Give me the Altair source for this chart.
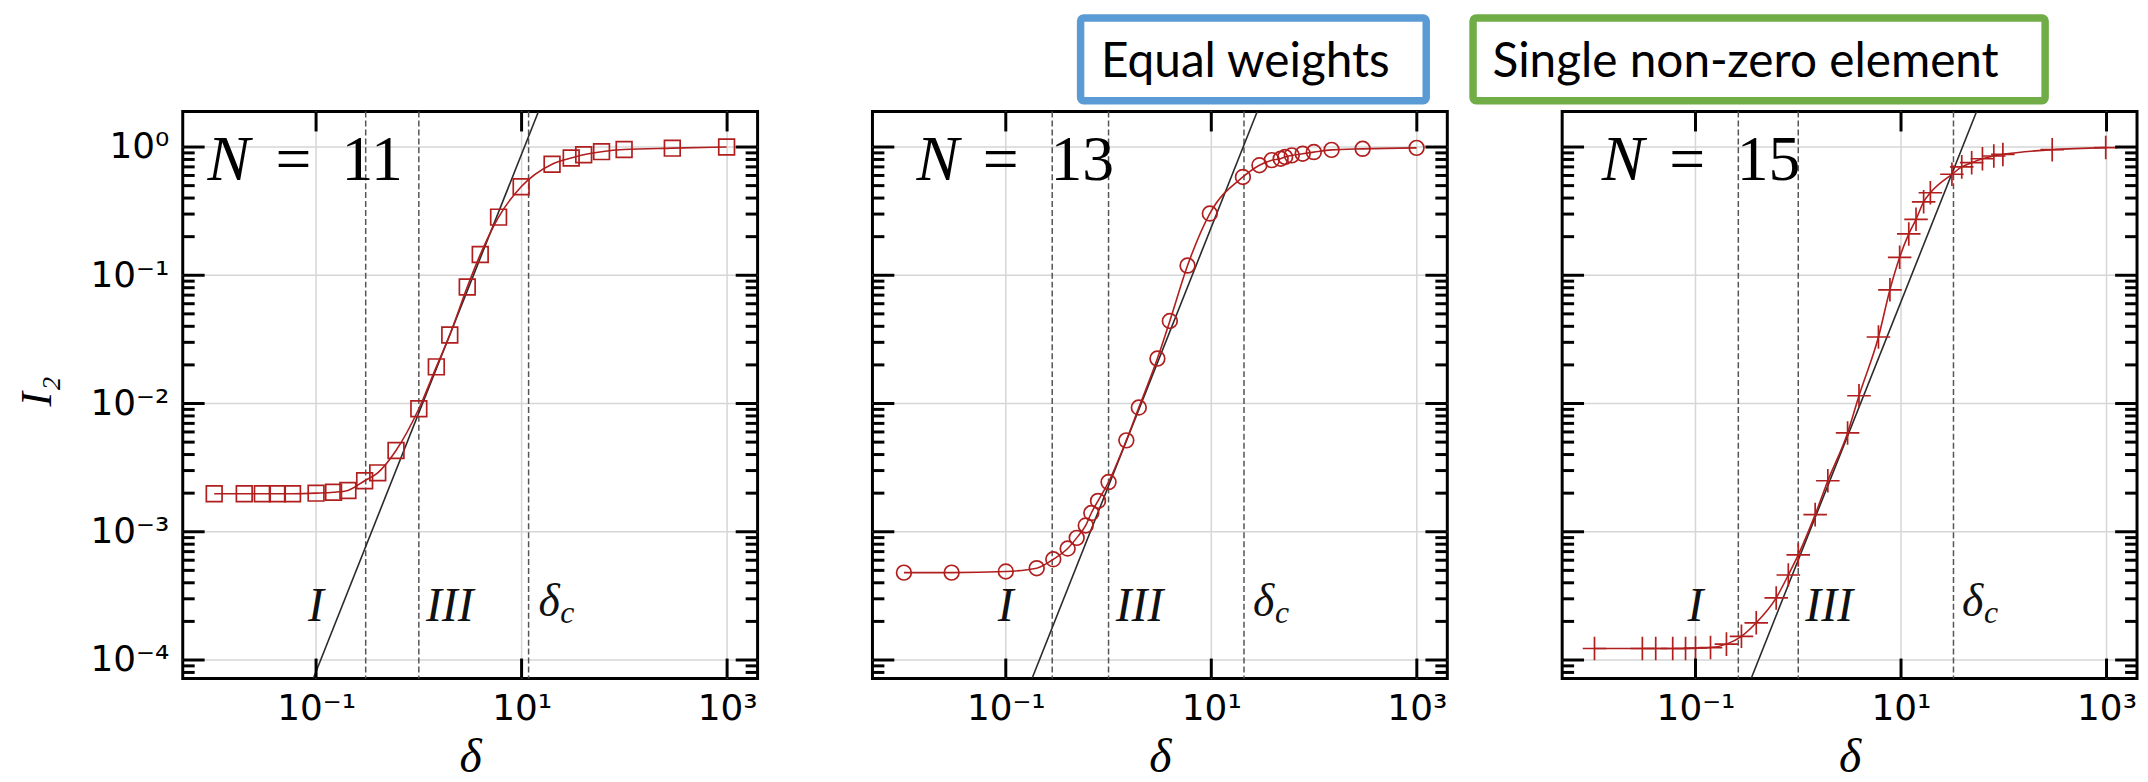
import json
import altair as alt
import pandas as pd

# ---------------- data ----------------
x_domain = [0.00504, 1980]
y_domain = [7.18e-5, 1.89]

x_major = [0.1, 10, 1000]
x_major_exp = [-1, 1, 3]
x_major_labels = ['10⁻¹', '10¹', '10³']
y_major = [1, 0.1, 0.01, 0.001, 0.0001]
y_major_exp = [0, -1, -2, -3, -4]
y_major_labels = ['10⁰', '10⁻¹', '10⁻²', '10⁻³', '10⁻⁴']
minor_mult = [2, 3, 4, 5, 6, 7, 8, 9]
y_decades = [1e-5, 1e-4, 1e-3, 1e-2, 1e-1, 1]
y_minor = [m * d for d in y_decades for m in minor_mult if y_domain[0] < m * d < y_domain[1]]

n_values = ['11', '13', '15']

x1 = [0.0102, 0.02, 0.03, 0.042, 0.059, 0.1, 0.148, 0.204, 0.297, 0.398, 0.6, 1.0, 1.48, 2.0,
      2.96, 3.96, 5.97, 9.9, 19.8, 30.4, 40.2, 60, 99.5, 293, 989]
y1 = [0.00198, 0.00198, 0.00198, 0.00198, 0.00198, 0.002, 0.00203, 0.0021, 0.0025, 0.00288,
      0.0043, 0.0091, 0.0193, 0.0342, 0.081, 0.145, 0.284, 0.49, 0.735, 0.82, 0.87, 0.92, 0.957, 0.98, 1.0]

x2 = [0.0102, 0.0297, 0.1, 0.2, 0.29, 0.4, 0.49, 0.6, 0.68, 0.79, 1.0, 1.49, 1.97, 2.99, 3.95,
      5.87, 9.67, 20.3, 29.4, 38.8, 47.3, 52.3, 60.7, 77.5, 99.5, 148, 297, 995]
y2 = [4.8e-4, 4.8e-4, 4.9e-4, 5.2e-4, 6.1e-4, 7.4e-4, 8.96e-4, 1.12e-3, 1.4e-3, 1.74e-3, 2.44e-3,
      5.16e-3, 9.3e-3, 0.0224, 0.044, 0.119, 0.303, 0.584, 0.721, 0.79, 0.81, 0.836, 0.861, 0.887,
      0.913, 0.95, 0.968, 0.985]

x3 = [0.0104, 0.0304, 0.041, 0.06, 0.08, 0.1, 0.14, 0.2, 0.28, 0.39, 0.61, 0.8, 1.0, 1.46, 1.94,
      3.02, 3.9, 6.03, 7.8, 9.7, 11.9, 14.0, 16.6, 19.3, 31.3, 39, 48.7, 62, 80, 98, 296, 982]
y3 = [1.23e-4, 1.23e-4, 1.23e-4, 1.23e-4, 1.23e-4, 1.24e-4, 1.25e-4, 1.33e-4, 1.53e-4, 1.95e-4,
      3.05e-4, 4.6e-4, 6.6e-4, 1.36e-3, 2.5e-3, 5.9e-3, 0.0115, 0.033, 0.077, 0.138, 0.21, 0.273,
      0.374, 0.44, 0.613, 0.70, 0.755, 0.81, 0.851, 0.876, 0.953, 0.99]

# reference power-law line (end points where it meets the frame)
pl_x = [[0.094, 14.6], [0.18, 28.0], [0.348, 54.4]]
pl_y = [[7.18e-5, 1.89], [7.18e-5, 1.89], [7.18e-5, 1.89]]

# dashed region boundaries
dash_x = [[0.304, 1.0, 11.7], [0.283, 1.0, 20.8], [0.261, 1.0, 32.4]]

# annotation anchors (data coordinates)
N_x = [0.00879, 0.0135, 0.01222]
eq_x = [0.0402, 0.0596, 0.0555]
num_x = [0.177, 0.272, 0.252]
N_y = 0.557
roman_labels = ['I', 'III']
roman_x = [0.1, 2.0]
roman_y = 2.0e-4
dc_x = [14.6, 25.5, 39.3]
dc_y = 2.2e-4

series_x = [x1, x2, x3]
series_y = [y1, y2, y3]

# ---------------- styles / layout ----------------
W, H = 578, 570
RED = '#B01E1E'
shapes = ['square', 'circle', 'M-1,0L1,0M0,-1L0,1']
sizes = [250, 220, 560]
SERIF = 'Liberation Serif'

boxes = {
    1: dict(text='Equal weights', color='#5B9BD5', x=209.3, x2=556.8, y=-94.0, y2=-10.8, tx=229.8, ty=-35),
    2: dict(text='Single non-zero element', color='#70AD47', x=-89.6, x2=485.6, y=-94.0, y2=-10.8, tx=-70.1, ty=-35),
}

LOG10 = "round(log(datum.value) / LN10)"
xexpr = "%s[indexof(%s, %s)]" % (json.dumps(x_major_labels, ensure_ascii=False), json.dumps(x_major_exp), LOG10)
yexpr = "%s[indexof(%s, %s)]" % (json.dumps(y_major_labels, ensure_ascii=False), json.dumps(y_major_exp), LOG10)

xs = alt.Scale(type='log', domain=x_domain, nice=False)
ys = alt.Scale(type='log', domain=y_domain, nice=False)

xaxis = alt.Axis(values=x_major, labelExpr=xexpr, ticks=False, tickSize=0, domain=False, grid=False,
                 labelFont='DejaVu Sans', labelFontSize=36, labelColor='black', labelPadding=13,
                 labelFlush=False, labelOverlap=False, orient='bottom',
                 title='δ', titleFont=SERIF, titleFontStyle='italic', titleFontWeight='normal',
                 titleFontSize=48, titleColor='black', titleBaseline='alphabetic', titleY=94)
yaxis_main = alt.Axis(values=y_major, labelExpr=yexpr, ticks=False, tickSize=0, domain=False, grid=False,
                      labelFont='DejaVu Sans', labelFontSize=36, labelColor='black', labelPadding=14,
                      labelOverlap=False, labelFlush=False, orient='left',
                      title='I₂', titleFont=SERIF, titleFontStyle='italic', titleFontWeight='normal',
                      titleFontSize=44, titleColor='black', titleAngle=270, titleBaseline='alphabetic',
                      titleX=-133, titleY=281)
yaxis_blank = alt.Axis(values=y_major, labels=False, ticks=False, tickSize=0, domain=False, grid=False,
                       orient='left', title='')


def panel(i):
    yaxis = yaxis_main if i == 0 else yaxis_blank
    X = lambda: alt.X('x:Q', scale=xs, axis=xaxis)
    Y = lambda: alt.Y('y:Q', scale=ys, axis=yaxis)

    vgrid = alt.Chart(pd.DataFrame({'x': x_major})).mark_rule(color='#d6d6d6', strokeWidth=1.5).encode(x=X())
    hgrid = alt.Chart(pd.DataFrame({'y': y_major})).mark_rule(color='#d6d6d6', strokeWidth=1.5).encode(y=Y())

    dashed = alt.Chart(pd.DataFrame({'x': dash_x[i]})).mark_rule(
        color='#555555', strokeWidth=1.5, strokeDash=[6, 3]).encode(x=X())

    pl = alt.Chart(pd.DataFrame({'x': pl_x[i], 'y': pl_y[i]})).mark_line(
        color='#2a2a2a', strokeWidth=1.6, clip=True).encode(x=X(), y=Y())

    df = pd.DataFrame({'x': series_x[i], 'y': series_y[i]})
    line = alt.Chart(df).mark_line(color=RED, strokeWidth=1.6, interpolate='monotone').encode(x=X(), y=Y())
    pts = alt.Chart(df).mark_point(shape=shapes[i], size=sizes[i], filled=False, color=RED,
                                   strokeWidth=1.7, opacity=1).encode(x=X(), y=Y())

    big = dict(font=SERIF, fontSize=64, align='left', baseline='alphabetic', color='black')
    tN = alt.Chart(pd.DataFrame({'x': [N_x[i]], 'y': [N_y], 't': ['N']})).mark_text(
        fontStyle='italic', **big).encode(x=X(), y=Y(), text='t:N')
    tEq = alt.Chart(pd.DataFrame({'x': [eq_x[i]], 'y': [N_y], 't': ['=']})).mark_text(
        **big).encode(x=X(), y=Y(), text='t:N')
    tNum = alt.Chart(pd.DataFrame({'x': [num_x[i]], 'y': [N_y], 't': [n_values[i]]})).mark_text(
        **big).encode(x=X(), y=Y(), text='t:N')

    tR = alt.Chart(pd.DataFrame({'x': roman_x, 'y': [roman_y] * 2, 't': roman_labels})).mark_text(
        font=SERIF, fontStyle='italic', fontSize=48, align='center', baseline='alphabetic', color='#111111'
    ).encode(x=X(), y=Y(), text='t:N')
    tD = alt.Chart(pd.DataFrame({'x': [dc_x[i]], 'y': [dc_y], 't': ['δ']})).mark_text(
        font=SERIF, fontStyle='italic', fontSize=46, align='left', baseline='alphabetic', color='#111111'
    ).encode(x=X(), y=Y(), text='t:N')
    tC = alt.Chart(pd.DataFrame({'x': [dc_x[i]], 'y': [dc_y], 't': ['c']})).mark_text(
        font=SERIF, fontStyle='italic', fontSize=32, align='left', baseline='alphabetic', color='#111111',
        dx=22, dy=7
    ).encode(x=X(), y=Y(), text='t:N')

    tick = dict(color='black', strokeWidth=3)
    ly_maj = alt.Chart(pd.DataFrame({'y': y_major})).mark_rule(**tick).encode(
        y=Y(), x=alt.value(0), x2=alt.value(22))
    ly_min = alt.Chart(pd.DataFrame({'y': y_minor})).mark_rule(**tick).encode(
        y=Y(), x=alt.value(0), x2=alt.value(12))
    ry_maj = alt.Chart(pd.DataFrame({'y': y_major})).mark_rule(**tick).encode(
        y=Y(), x=alt.value(W - 22), x2=alt.value(W))
    ry_min = alt.Chart(pd.DataFrame({'y': y_minor})).mark_rule(**tick).encode(
        y=Y(), x=alt.value(W - 12), x2=alt.value(W))
    tx_maj = alt.Chart(pd.DataFrame({'x': x_major})).mark_rule(**tick).encode(
        x=X(), y=alt.value(0), y2=alt.value(20))
    bx_maj = alt.Chart(pd.DataFrame({'x': x_major})).mark_rule(**tick).encode(
        x=X(), y=alt.value(H - 20), y2=alt.value(H))

    layers = [vgrid, hgrid, dashed, pl, line, pts, tN, tEq, tNum, tR, tD, tC,
              ly_maj, ly_min, ry_maj, ry_min, tx_maj, bx_maj]

    if i in boxes:
        b = boxes[i]
        bdf = pd.DataFrame({'t': [b['text']]})
        rect = alt.Chart(bdf).mark_rect(fill='white', stroke=b['color'], strokeWidth=7.5,
                                        cornerRadius=3).encode(
            x=alt.value(b['x']), x2=alt.value(b['x2']), y=alt.value(b['y']), y2=alt.value(b['y2']))
        btxt = alt.Chart(bdf).mark_text(font='Lato', fontSize=48, align='left', baseline='alphabetic',
                                        color='black').encode(
            x=alt.value(b['tx']), y=alt.value(b['ty']), text='t:N')
        layers += [rect, btxt]

    return alt.layer(*layers).properties(width=W, height=H)


chart = alt.hconcat(panel(0), panel(1), panel(2), spacing=115.5, bounds='flush').properties(
    padding={'left': 5.7, 'top': 2, 'right': 0, 'bottom': 0}
).configure_view(stroke='black', strokeWidth=3)

chart.save('out.html', embed_options={'renderer': 'svg', 'actions': False})
